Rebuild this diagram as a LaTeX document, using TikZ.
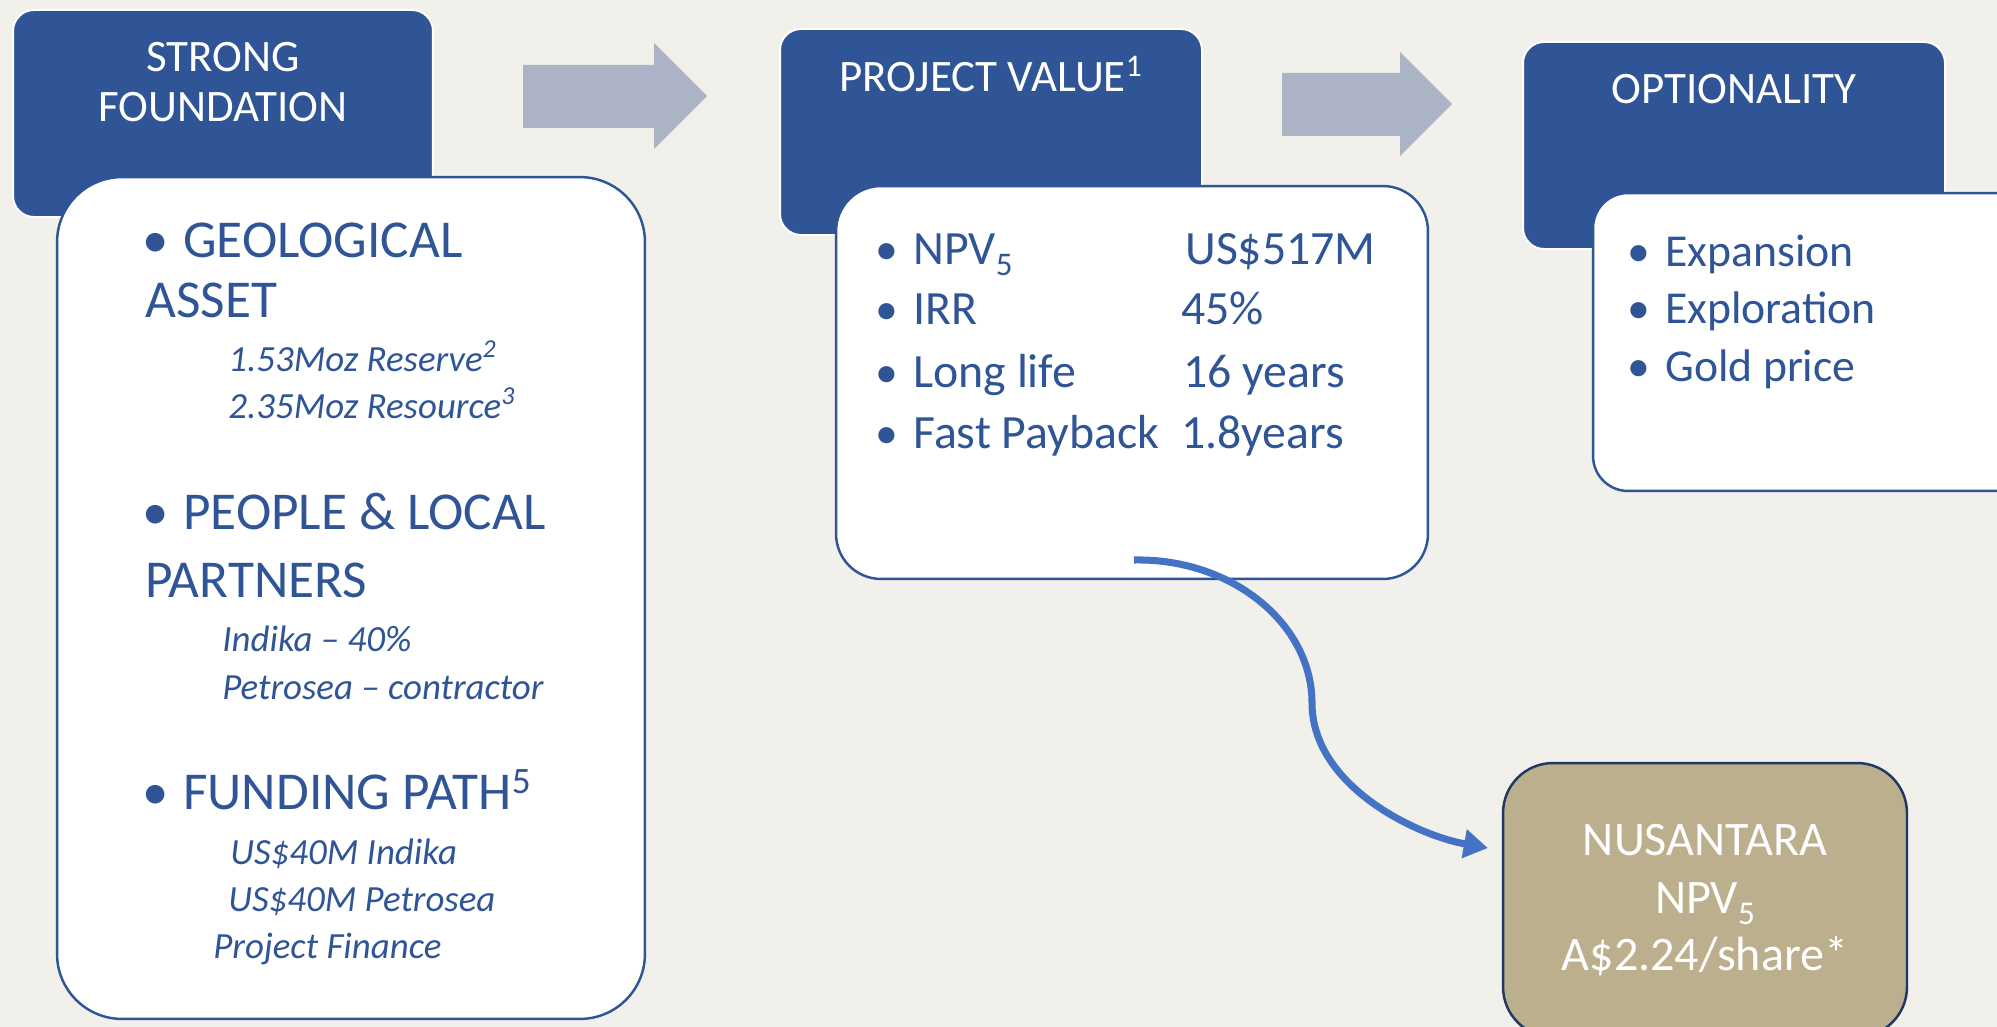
\documentclass[tikz,border=0pt]{standalone}
\usepackage{fontspec}
\setmainfont{Carlito}
\usetikzlibrary{arrows.meta}

\definecolor{bgcol}{HTML}{F1F0EB}
\definecolor{navy}{HTML}{2F5597}
\definecolor{arrowgrey}{HTML}{ADB3C7}
\definecolor{gold}{HTML}{BCAF8D}
\definecolor{goldedge}{HTML}{203864}
\definecolor{linkblue}{HTML}{4472C4}

% lowered subscript used after NPV
\newcommand{\lowsub}[1]{\raisebox{-0.24em}{\fontsize{0.69\dimexpr\csname f@size\endcsname pt\relax}{10pt}\selectfont #1}}

\tikzset{
  headbox/.style={rectangle, rounded corners=0.42cm, fill=navy, draw=white, line width=1.1pt, inner sep=0},
  bodybox/.style={rectangle, fill=white, draw=navy, line width=1.4pt, inner sep=0},
  nusbox/.style={rectangle, rounded corners=1cm, fill=gold, draw=goldedge, line width=1.4pt, inner sep=0},
  blockarrow/.style={fill=arrowgrey},
  link/.style={draw=linkblue, line width=4pt, -{Triangle[length=0.48cm,width=0.56cm]}},
  titletxt/.style={text=white, inner sep=0, anchor=base, font=\fontsize{25.6pt}{30pt}\selectfont},
  nustxt/.style={text=white, inner sep=0, anchor=base, font=\fontsize{27.4pt}{30pt}\selectfont},
  body/.style={text=navy, inner sep=0, anchor=base west, font=\fontsize{27.2pt}{30pt}\selectfont},
  dot/.style={text=navy, inner sep=0, anchor=base, font=\fontsize{26pt}{30pt}\selectfont},
  optbody/.style={body, font=\fontsize{26pt}{30pt}\selectfont},
  lead/.style={text=navy, inner sep=0, anchor=base west, font=\fontsize{30.3pt}{35pt}\selectfont},
  leaddot/.style={text=navy, inner sep=0, anchor=base, font=\fontsize{30pt}{35pt}\selectfont},
  note/.style={text=navy, inner sep=0, anchor=base west, font=\fontsize{21pt}{25pt}\selectfont\itshape},
}

\begin{document}
\begin{tikzpicture}[x=0.02cm, y=-0.02cm]
  % canvas
  \useasboundingbox (0,0) rectangle (1997,1027);
  \clip (0,0) rectangle (1997,1027);
  \fill[bgcol] (0,0) rectangle (1997,1027);

  % ---- column 1: strong foundation ----
  \node[headbox, minimum width=8.4cm, minimum height=4.14cm] (head1) at (223,113.5) {};
  \node[titletxt] (t1a) at (223,72) {STRONG};
  \node[titletxt] (t1b) at (223,122) {FOUNDATION};
  \node[bodybox, rounded corners=1.3cm, minimum width=11.76cm, minimum height=16.84cm] (body1) at (351,598) {};

  \node[leaddot] (b1a) at (156,257) {•};
  \node[lead] (geo1) at (183,257) {GEOLOGICAL};
  \node[lead] (geo2) at (145,317) {ASSET};
  \node[note] (geo3) at (228,371) {1.53Moz Reserve\textsuperscript{2}};
  \node[note] (geo4) at (228,418) {2.35Moz Resource\textsuperscript{3}};

  \node[leaddot] (b1b) at (156,529) {•};
  \node[lead] (ppl1) at (183,529) {PEOPLE \& LOCAL};
  \node[lead] (ppl2) at (145,597) {PARTNERS};
  \node[note] (ppl3) at (222,651) {Indika – 40\%};
  \node[note] (ppl4) at (222,699) {Petrosea – contractor};

  \node[leaddot] (b1c) at (156,809) {•};
  \node[lead] (fnd1) at (183,809) {FUNDING PATH\textsuperscript{5}};
  \node[note] (fnd2) at (230,864) {US\$40M Indika};
  \node[note] (fnd3) at (228,911) {US\$40M Petrosea};
  \node[note] (fnd4) at (213,958) {Project Finance};

  % block arrow 1
  \fill[blockarrow] (523,65) -- (654,65) -- (654,43) -- (707,96) -- (654,149) -- (654,128) -- (523,128) -- cycle;

  % ---- column 2: project value ----
  \node[headbox, minimum width=8.44cm, minimum height=4.12cm] (head2) at (991,132) {};
  \node[titletxt] (t2) at (991,92) {PROJECT VALUE\textsuperscript{1}};
  \node[bodybox, rounded corners=0.9cm, minimum width=11.84cm, minimum height=7.86cm] (body2) at (1132,382.5) {};

  \node[dot] (b2a) at (887,264) {•};
  \node[body] (k1) at (913,264) {NPV\lowsub{5}};
  \node[body] (v1) at (1185,264) {US\$517M};
  \node[dot] (b2b) at (887,324) {•};
  \node[body] (k2) at (913,324) {IRR};
  \node[body] (v2) at (1181,324) {45\%};
  \node[dot] (b2c) at (887,387) {•};
  \node[body] (k3) at (913,387) {Long life};
  \node[body] (v3) at (1183,387) {16 years};
  \node[dot] (b2d) at (887,448) {•};
  \node[body] (k4) at (913,448) {Fast Payback};
  \node[body] (v4) at (1181,448) {1.8years};

  % block arrow 2
  \fill[blockarrow] (1282,73) -- (1400,73) -- (1400,52) -- (1452,104) -- (1400,156) -- (1400,136) -- (1282,136) -- cycle;

  % ---- column 3: optionality ----
  \node[headbox, minimum width=8.44cm, minimum height=4.14cm] (head3) at (1734,145.5) {};
  \node[titletxt] (t3) at (1734,104) {OPTIONALITY};
  \node[bodybox, rounded corners=0.7cm, minimum width=8.84cm, minimum height=5.96cm] (body3) at (1814,342) {};

  \node[dot] (b3a) at (1639,266) {•};
  \node[optbody] (o1) at (1665,266) {Expansion};
  \node[dot] (b3b) at (1639,323) {•};
  \node[optbody] (o2) at (1665,323) {Exploration};
  \node[dot] (b3c) at (1639,381) {•};
  \node[optbody] (o3) at (1665,381) {Gold price};

  % ---- result box ----
  \node[nusbox, minimum width=8.08cm, minimum height=5.48cm] (nus) at (1705,900) {};
  \node[nustxt] (n1) at (1705,855) {NUSANTARA};
  \node[nustxt] (n2) at (1705,913) {NPV\lowsub{5}};
  \node[nustxt] (n3) at (1705,970) {A\$2.24/share*};

  % curved link from project value to result
  \coordinate (linkstart) at (1134,560);
  \coordinate (linkbend) at (1312,703);
  \coordinate (linkend) at ([xshift=-0.28cm,yshift=1.04cm]nus.west);
  \draw[link] (linkstart) .. controls (1232,558) and (1312,624) .. (linkbend)
              .. controls (1312,785) and (1415,835) .. (linkend);
\end{tikzpicture}
\end{document}
